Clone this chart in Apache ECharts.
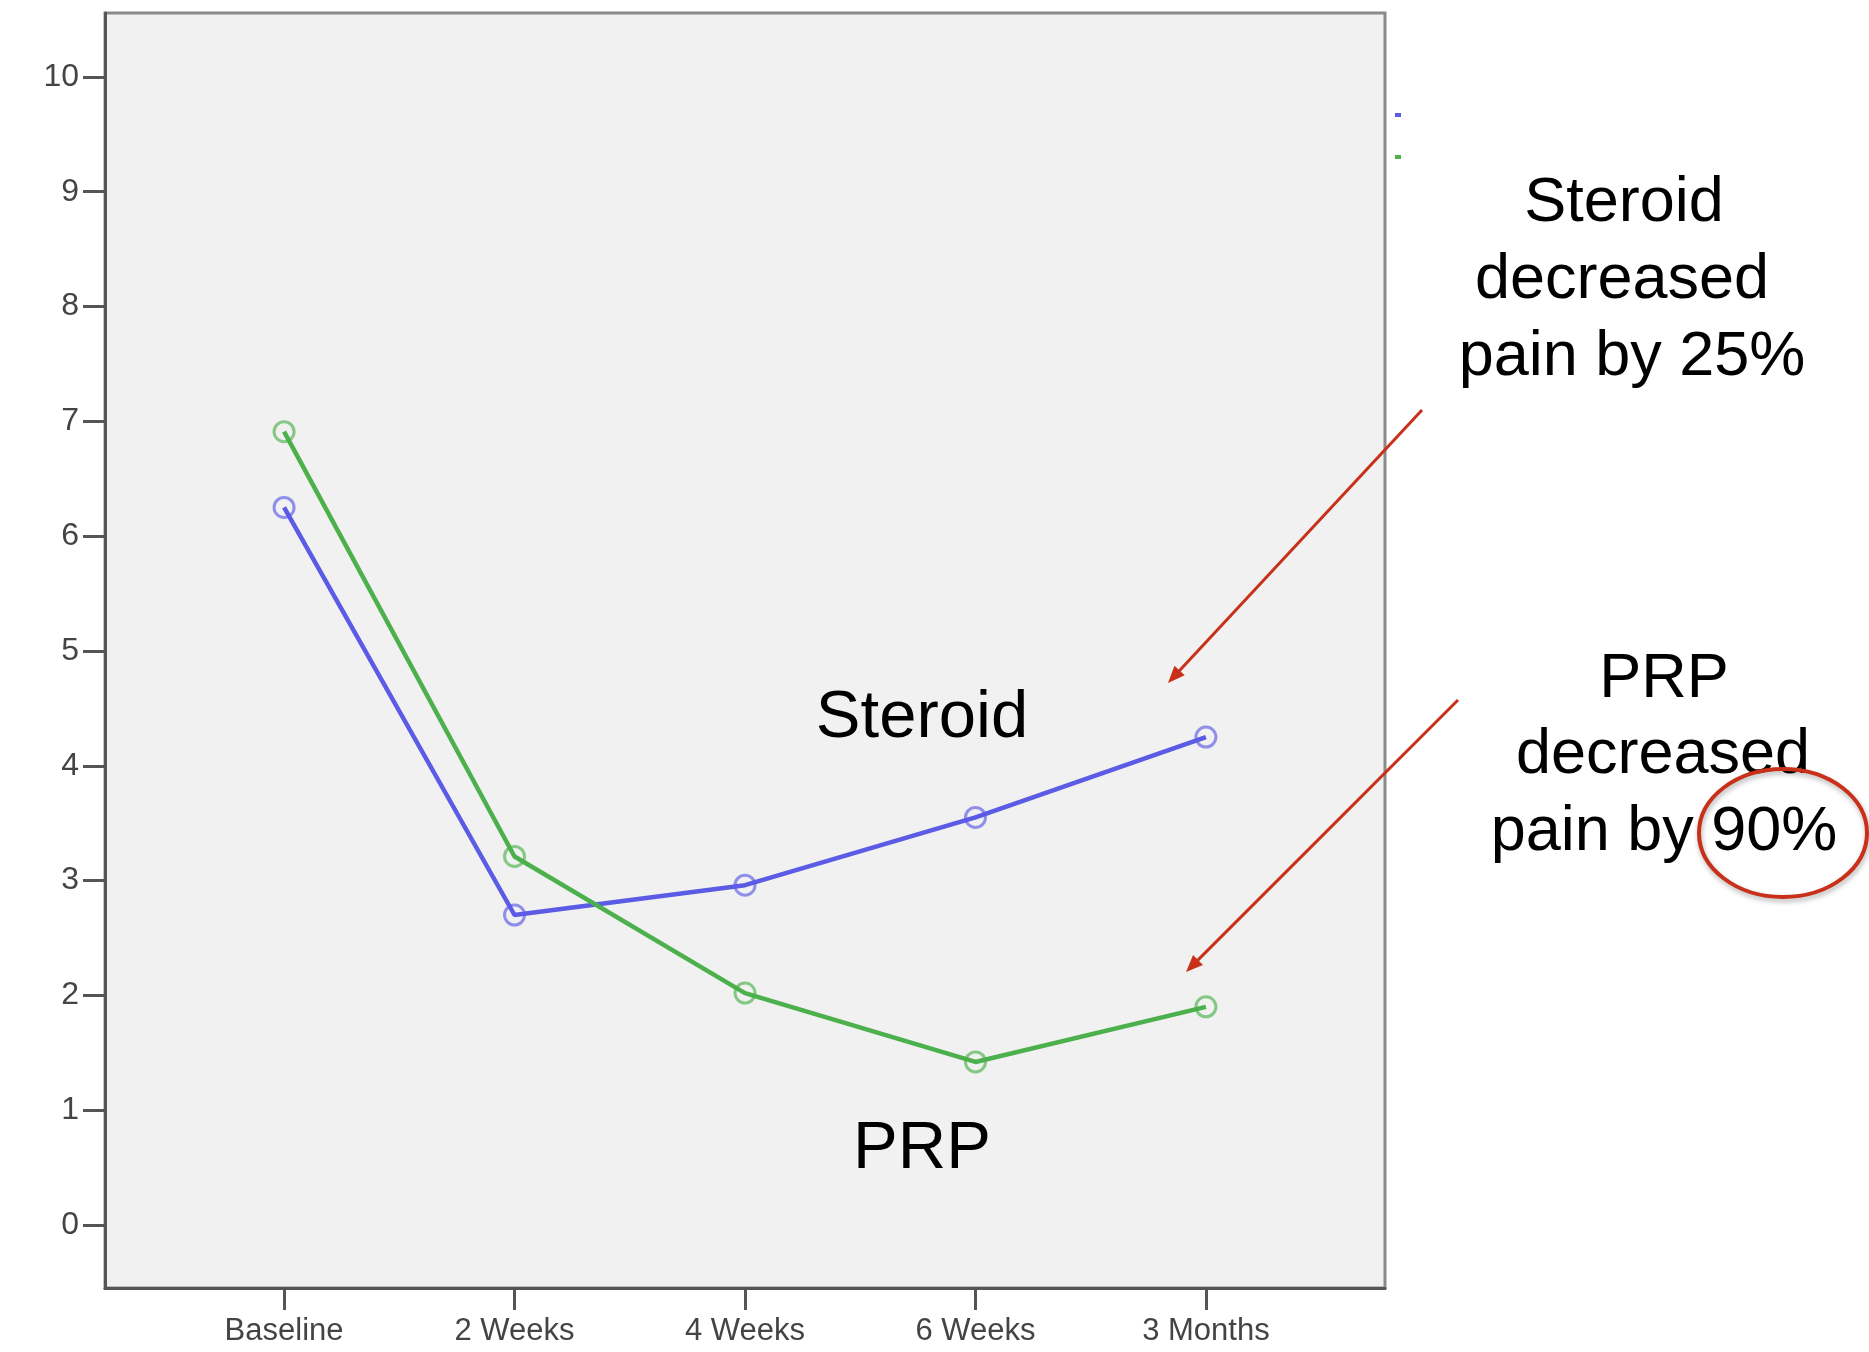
<!DOCTYPE html>
<html>
<head>
<meta charset="utf-8">
<script src="https://cdn.jsdelivr.net/npm/echarts@6/dist/echarts.min.js"></script>
<style>
  html, body { margin: 0; padding: 0; background: #ffffff; }
  #chart { width: 1869px; height: 1352px; }
</style>
</head>
<body>
<div id="chart"></div>
<script>
// ---- data ----
const categories = ['Baseline', '2 Weeks', '4 Weeks', '6 Weeks', '3 Months'];
const steroidValues = [6.25, 2.70, 2.96, 3.55, 4.25];
const prpValues = [6.91, 3.21, 2.02, 1.42, 1.90];
const yTickValues = [0, 1, 2, 3, 4, 5, 6, 7, 8, 9, 10];
const xTickValues = [0, 1, 2, 3, 4];

const steroidData = steroidValues.map((v, i) => [i, v]);
const prpData = prpValues.map((v, i) => [i, v]);

const chart = echarts.init(document.getElementById('chart'));

const FONT = '"Liberation Sans", Arial, Helvetica, sans-serif';
const RED = '#c8301a';
const BLUE = '#5b5be6';
const GREEN = '#4cb04c';

function arrow(x1, y1, x2, y2) {
  const dx = x2 - x1, dy = y2 - y1;
  const len = Math.sqrt(dx * dx + dy * dy);
  const ux = dx / len, uy = dy / len;
  const hl = 17, hw = 7;
  const bx = x2 - ux * hl, by = y2 - uy * hl;
  const px = -uy, py = ux;
  return [
    { type: 'line', shape: { x1: x1, y1: y1, x2: bx + ux * 2, y2: by + uy * 2 },
      style: { stroke: RED, lineWidth: 3 } },
    { type: 'polygon', shape: { points: [[x2, y2], [bx + px * hw, by + py * hw], [bx - px * hw, by - py * hw]] },
      style: { fill: RED } }
  ];
}

function txt(x, y, s, size) {
  return { type: 'text', x: x, y: y,
    style: { text: s, fill: '#000', font: size + 'px ' + FONT, textAlign: 'center', textVerticalAlign: 'middle' } };
}

const option = {
  backgroundColor: '#ffffff',
  animation: false,
  grid: {
    left: 105, right: 484, top: 13, bottom: 64,
    show: true, backgroundColor: '#f0f1f0', borderColor: '#8a8a8a', borderWidth: 3
  },
  legend: {
    left: 1390, top: 108, orient: 'vertical', icon: 'rect',
    itemWidth: 6, itemHeight: 4, itemGap: 38,
    formatter: () => '', textStyle: { fontSize: 1 },
    data: [
      { name: 'Steroid', itemStyle: { color: BLUE, borderWidth: 0 } },
      { name: 'PRP', itemStyle: { color: GREEN, borderWidth: 0 } }
    ]
  },
  xAxis: {
    type: 'value', min: -0.777, max: 4.777,
    axisLine: { show: true, onZero: false, lineStyle: { color: '#555', width: 3 } },
    axisTick: { show: true, customValues: xTickValues, length: 22, lineStyle: { color: '#555', width: 3 } },
    axisLabel: {
      customValues: xTickValues, margin: 28,
      formatter: (v) => categories[Math.round(v)] || '',
      color: '#444', fontSize: 31, fontFamily: FONT
    },
    splitLine: { show: false }
  },
  yAxis: {
    type: 'value', min: -0.549, max: 10.557,
    axisLine: { show: true, onZero: false, lineStyle: { color: '#555', width: 3 } },
    axisTick: { show: true, customValues: yTickValues, length: 22, lineStyle: { color: '#555', width: 3 } },
    axisLabel: {
      customValues: yTickValues, margin: 26,
      color: '#444', fontSize: 32, fontFamily: FONT
    },
    splitLine: { show: false }
  },
  series: [
    {
      name: 'Steroid', type: 'line', data: steroidData,
      symbol: 'circle', symbolSize: 20,
      lineStyle: { color: BLUE, width: 4.5 },
      itemStyle: { color: 'rgba(0,0,0,0)', borderColor: 'rgba(91,91,230,0.65)', borderWidth: 3 },
      z: 3
    },
    {
      name: 'PRP', type: 'line', data: prpData,
      symbol: 'circle', symbolSize: 20,
      lineStyle: { color: GREEN, width: 4.5 },
      itemStyle: { color: 'rgba(0,0,0,0)', borderColor: 'rgba(76,176,76,0.65)', borderWidth: 3 },
      z: 3
    }
  ],
  graphic: [
    txt(922, 719, 'Steroid', 67),
    txt(922, 1150, 'PRP', 67),
    txt(1624, 204, 'Steroid', 63),
    txt(1622, 281, 'decreased', 63),
    txt(1632, 358, 'pain by 25%', 63),
    txt(1664, 680, 'PRP', 63),
    txt(1663, 756, 'decreased', 63),
    txt(1664, 833, 'pain by 90%', 63),
    { type: 'ellipse', shape: { cx: 1783, cy: 833, rx: 84, ry: 64 },
      style: { fill: 'none', stroke: RED, lineWidth: 4,
               shadowBlur: 5, shadowColor: 'rgba(0,0,0,0.3)', shadowOffsetX: 1, shadowOffsetY: 3 } },
    ...arrow(1422, 410, 1168, 683),
    ...arrow(1458, 700, 1186, 972)
  ]
};

chart.setOption(option);
</script>
</body>
</html>
